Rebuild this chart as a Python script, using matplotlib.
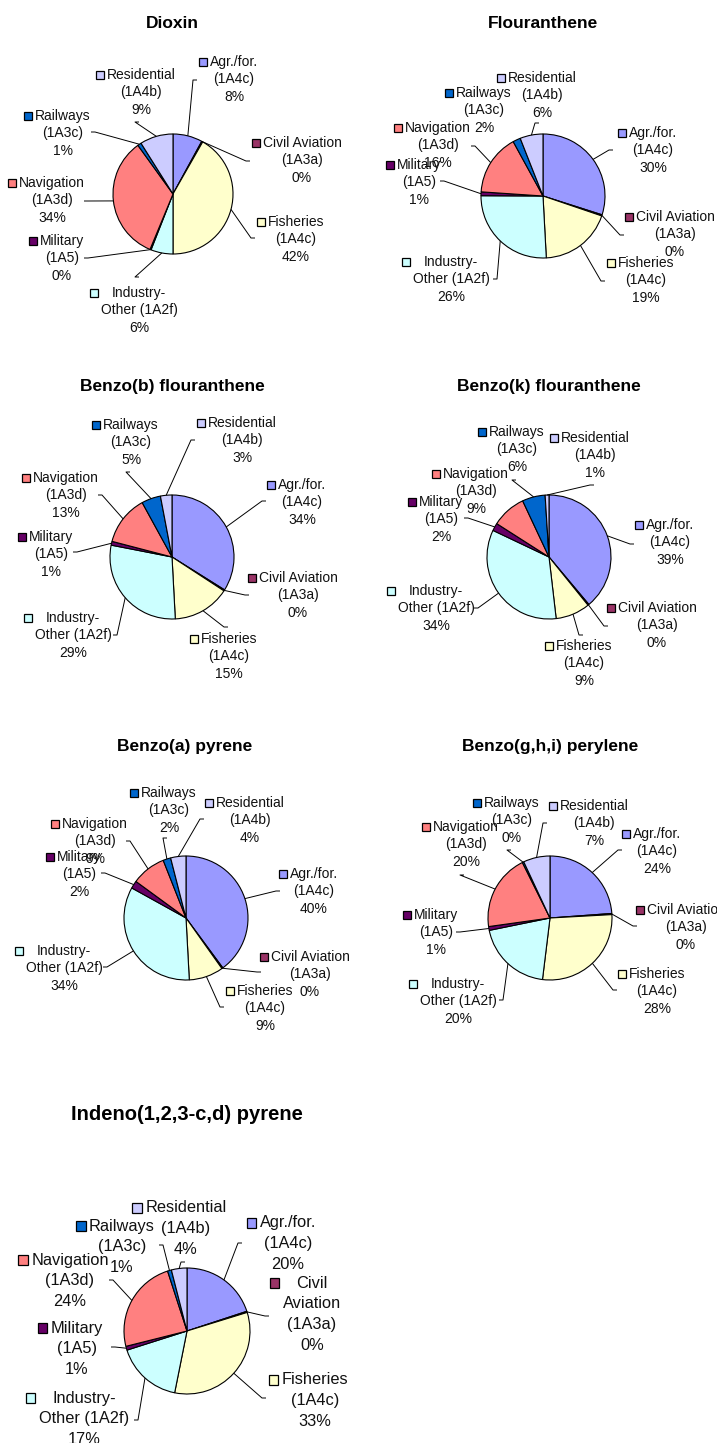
import matplotlib
matplotlib.use("Agg")
import matplotlib.pyplot as plt
from matplotlib.patches import Rectangle
import numpy as np

W, H = 717, 1443

# Source sectors (clockwise from 12 o'clock)
names = ["Agr./for.", "Civil Aviation", "Fisheries", "Industry-", "Military",
         "Navigation", "Railways", "Residential"]
codes = ["(1A4c)", "(1A3a)", "(1A4c)", "Other (1A2f)", "(1A5)",
         "(1A3d)", "(1A3c)", "(1A4b)"]
colors = ["#9999FF", "#993366", "#FFFFCC", "#CCFFFF", "#660066",
          "#FF8080", "#0066CC", "#CCCCFF"]

titles = ["Dioxin", "Flouranthene", "Benzo(b) flouranthene",
          "Benzo(k) flouranthene", "Benzo(a) pyrene",
          "Benzo(g,h,i) perylene", "Indeno(1,2,3-c,d) pyrene"]

# Emission shares, % (Agr, CivAv, Fish, Industry, Military, Navigation, Rail, Residential)
dioxin = [8, 0.3, 42, 6, 0.3, 34, 1, 9]
flouranthene = [30, 0.3, 19, 26, 1, 16, 2, 6]
benzo_b = [34, 0.3, 15, 29, 1, 13, 5, 3]
benzo_k = [39, 0.3, 9, 34, 2, 9, 6, 1]
benzo_a = [40, 0.3, 9, 34, 2, 9, 2, 4]
benzo_ghi = [24, 0.3, 28, 20, 1, 20, 0.4, 7]
indeno = [20, 0.3, 33, 17, 1, 24, 1, 4]
series = [dioxin, flouranthene, benzo_b, benzo_k, benzo_a, benzo_ghi, indeno]

# Layout in pixels (y measured downward from top of the page)
layout = [
    dict(c=(173, 194), r=60, t=(172, 23), fs=10, tfs=12.5, sp=17.3,
         lab=[(234, 62, (193, 80)), (302, 143, (246, 161)), (296, 222, (251, 238)),
              (139, 293, (135, 277)), (62, 241, (88, 258)), (52, 183, (88, 201)),
              (63, 116, (95, 132)), (141, 75, (135, 122))]),
    dict(c=(543, 196), r=62, t=(543, 23), fs=10, tfs=12.5, sp=17.3,
         lab=[(653, 133, (609, 150)), (675, 217, (620, 235)), (646, 263, (601, 281)),
              (451, 262, (497, 279)), (419, 165, (444, 181)), (438, 128, (475, 146)),
              (484, 93, None), (542, 78, (535, 123))]),
    dict(c=(172, 557), r=62, t=(172, 386), fs=10, tfs=12.5, sp=17.3,
         lab=[(302, 485, (262, 501)), (298, 578, (245, 595)), (229, 639, (224, 627)),
              (73, 618, (117, 635)), (51, 537, (77, 552)), (66, 478, (102, 495)),
              (131, 425, (126, 472)), (242, 423, (191, 440))]),
    dict(c=(549, 557), r=62, t=(549, 386), fs=10, tfs=12.5, sp=17.3,
         lab=[(670, 525, (630, 544)), (657, 608, (604, 626)), (584, 646, (579, 635)),
              (436, 591, (478, 608)), (441, 502, (468, 518)), (476, 474, None),
              (517, 432, (512, 480)), (595, 438, (590, 485))]),
    dict(c=(186, 918), r=62, t=(185, 747), fs=10, tfs=12.5, sp=17.3,
         lab=[(314, 874, (276, 891)), (310, 957, (257, 972)), (265, 991, (220, 1007)),
              (64, 951, (107, 967)), (79, 857, (105, 873)), (95, 824, (130, 841)),
              (169, 793, (163, 838)), (250, 803, (200, 819))]),
    dict(c=(550, 918), r=62, t=(550, 747), fs=10, tfs=12.5, sp=17.3,
         lab=[(657, 834, (618, 850)), (686, 910, (633, 926)), (657, 974, (613, 990)),
              (458, 984, (503, 1000)), (436, 915, (460, 932)), (466, 827, (460, 875)),
              (512, 803, (507, 850)), (594, 806, (543, 823))]),
    dict(c=(187, 1331), r=63, t=(187, 1115), fs=11.8, tfs=14.5, sp=20.8,
         lab=[(288, 1223, (238, 1243)), (312, 1283, (265, 1316)), (315, 1380, (262, 1398)),
              (84, 1398, (138, 1420)), (77, 1328, (115, 1347)), (70, 1260, (113, 1280)),
              (122, 1226, (163, 1245)), (186, 1208, (181, 1262))]),
]

FONT = ["Liberation Sans", "DejaVu Sans"]
TXT = "#111111"

fig = plt.figure(figsize=(W / 100, H / 100), dpi=100)
ax = fig.add_axes([0, 0, 1, 1])
fig.patch.set_facecolor("white")


def set_page_limits():
    ax.set_xlim(0, W)
    ax.set_ylim(0, H)
    ax.set_aspect("equal")
    ax.set_autoscale_on(False)


def Y(y):
    return H - y


set_page_limits()
renderer = fig.canvas.get_renderer()
to_data = ax.transData.inverted()

for k, (title, vals, lay) in enumerate(zip(titles, series, layout)):
    cx, cy = lay["c"]
    r = lay["r"]
    ax.pie(vals, colors=colors, startangle=90, counterclock=False,
           center=(cx, Y(cy)), radius=r, frame=True,
           wedgeprops=dict(edgecolor="black", linewidth=0.8))
    set_page_limits()
    ax.text(lay["t"][0], Y(lay["t"][1]), title, ha="center", va="center",
            fontsize=lay["tfs"], fontweight="bold", family=FONT, color="black")

    total = float(sum(vals))
    cum = np.cumsum([0] + list(vals))
    for i, (lx, ly, anchor) in enumerate(lay["lab"]):
        if k == 6 and i == 1:
            lines = ["Civil", "Aviation", codes[i]]
        else:
            lines = [names[i], codes[i]]
        lines.append(f"{vals[i]:.0f}%")
        left = None
        for j, line in enumerate(lines):
            t = ax.text(lx, Y(ly + j * lay["sp"]), line, ha="center", va="center",
                        fontsize=lay["fs"], family=FONT, color=TXT)
            bb = t.get_window_extent(renderer)
            x0 = to_data.transform((bb.x0, bb.y0))[0]
            left = x0 if left is None else min(left, x0)
        sq = 8 if k < 6 else 9.5
        gap = 3 if k < 6 else 3.5
        ax.add_patch(Rectangle((left - gap - sq, Y(ly) - sq / 2), sq, sq,
                               facecolor=colors[i], edgecolor="black",
                               linewidth=0.9, zorder=5))
        if anchor is not None:
            theta = np.deg2rad(360.0 * (cum[i] + vals[i] / 2.0) / total)
            ex = cx + r * np.sin(theta)
            ey = cy - r * np.cos(theta)
            ax_, ay_ = anchor
            tick = 4 if lx > ax_ else -4
            ax.plot([ex, ax_, ax_ + tick], [Y(ey), Y(ay_), Y(ay_)],
                    color="black", linewidth=0.7, solid_capstyle="butt")

set_page_limits()
ax.axis("off")

fig.savefig("out.png", dpi=100, facecolor="white")
